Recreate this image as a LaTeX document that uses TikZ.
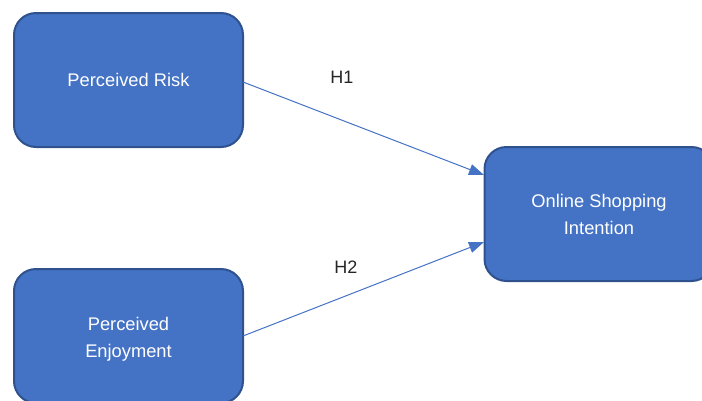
\documentclass[tikz,border=0pt]{standalone}
\usepackage{fontspec}
\setmainfont{Liberation Sans}
\usetikzlibrary{arrows.meta}
\definecolor{boxfill}{HTML}{4472C4}
\definecolor{boxedge}{HTML}{2F528F}
\definecolor{labtext}{HTML}{262626}
\begin{document}
\begin{tikzpicture}[x=1pt,y=-1pt,
  varbox/.style={draw=boxedge, line width=2pt, fill=boxfill, rounded corners=22pt,
    text=white, font=\fontsize{18.3}{27}\selectfont, align=center,
    minimum width=229pt, minimum height=134pt, inner sep=0pt},
  hyparrow/.style={draw=boxfill, line width=1pt, -{Triangle[length=15pt,width=11pt]}},
  hyplabel/.style={text=labtext, font=\fontsize{18}{21}\selectfont, inner sep=0pt}]
\useasboundingbox (0,0) rectangle (702,400);
\clip (0,0) rectangle (702,400);
\node[varbox] (risk) at (128.5,80) {Perceived Risk};
\node[varbox] (enjoy) at (128.5,336) {};
\node[text=white, font=\fontsize{18.3}{27}\selectfont, align=center] (enjoytxt) at (128.5,339) {Perceived\\Enjoyment};
\node[varbox] (osi) at (599,214) {Online Shopping\\Intention};
\coordinate (r1) at (243,82);
\coordinate (e1) at (243,336);
\coordinate (t1) at (484,175);
\coordinate (t2) at (484,242);
\draw[hyparrow] (r1) -- (t1);
\draw[hyparrow] (e1) -- (t2);
\node[hyplabel] (h1) at (342,77) {H1};
\node[hyplabel] (h2) at (346,267) {H2};
\end{tikzpicture}
\end{document}
